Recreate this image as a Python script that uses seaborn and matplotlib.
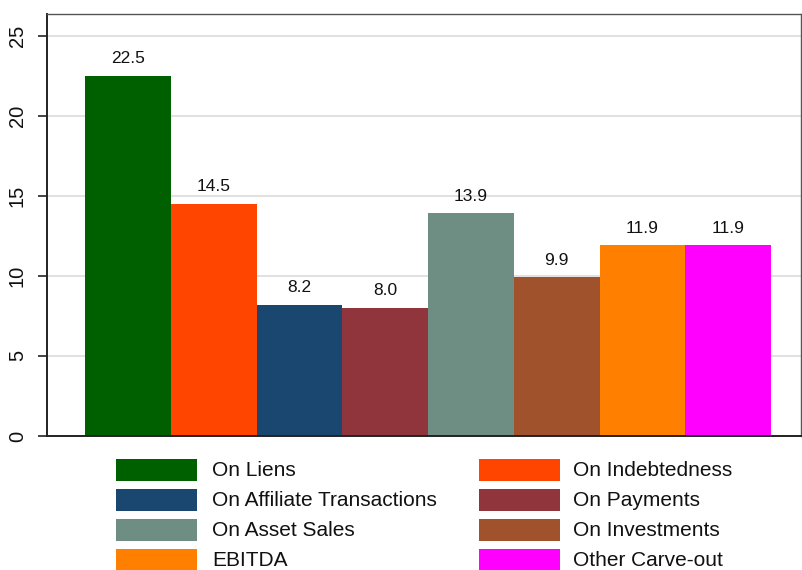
import matplotlib
matplotlib.use("Agg")
import matplotlib.pyplot as plt
from matplotlib.patches import Rectangle
import seaborn as sns
import pandas as pd

categories = ["On Liens", "On Indebtedness", "On Affiliate Transactions", "On Payments",
              "On Asset Sales", "On Investments", "EBITDA", "Other Carve-out"]
values = [22.5, 14.5, 8.2, 8.0, 13.9, 9.9, 11.9, 11.9]
colors = ["#006000", "#FF4500", "#1A476F", "#90353B",
          "#6E8E84", "#A0522D", "#FF7F00", "#FF00FF"]
yticks = [0, 5, 10, 15, 20, 25]

sns.set_theme(style="white")
plt.rcParams["font.family"] = ["Liberation Sans", "DejaVu Sans"]

df = pd.DataFrame({"category": categories, "value": values})

W, H = 802, 570
fig = plt.figure(figsize=(W / 100, H / 100), dpi=100)
ax = fig.add_axes([47 / W, 1 - 436 / H, 754 / W, 422 / H])

sns.barplot(data=df, x="category", y="value", hue="category", order=categories,
            hue_order=categories, palette=colors, width=1.0, dodge=False,
            legend=False, saturation=1.0, ax=ax)

for container in ax.containers:
    for bar in container:
        bar.set_edgecolor("none")
        bar.set_linewidth(0)
    ax.bar_label(container, fmt="%.1f", padding=7, fontsize=12.5, color="#111111")

# x scale: bars sit between 85px and 771px of the figure
unit = 686 / 8
ax.set_xlim(-0.5 - 38 / unit, 7.5 + 30 / unit)
ax.set_ylim(0, 422 / 16.02)

ax.set_yticks(yticks)
ax.set_yticklabels([str(t) for t in yticks], rotation=90, va="center", fontsize=14.5,
                   color="#111111")
ax.set_xticks([])
ax.set_xlabel("")
ax.set_ylabel("")
ax.yaxis.grid(True, color="#dcdcdc", linewidth=1.2)
ax.set_axisbelow(True)
ax.tick_params(axis="y", left=True, length=6.5, width=1.2, color="#222222", pad=8)

for side in ["left", "bottom", "top", "right"]:
    ax.spines[side].set_visible(True)
    ax.spines[side].set_color("#222222")
ax.spines["left"].set_linewidth(1.4)
ax.spines["bottom"].set_linewidth(1.4)
ax.spines["top"].set_linewidth(1.0)
ax.spines["top"].set_color("#555555")
ax.spines["right"].set_linewidth(1.0)
ax.spines["right"].set_color("#555555")

# Two-column key, filled row by row
swatch_x = [116, 479]
text_x = [212, 573]
row_top = 459
row_pitch = 30
sw_w, sw_h = 81, 22
for i, (label, color) in enumerate(zip(categories, colors)):
    row, col = divmod(i, 2)
    top = row_top + row * row_pitch
    fig.add_artist(Rectangle((swatch_x[col] / W, 1 - (top + sw_h) / H), sw_w / W, sw_h / H,
                             transform=fig.transFigure, facecolor=color, edgecolor="none"))
    fig.text(text_x[col] / W, 1 - (top + sw_h / 2) / H, label, fontsize=15,
             color="#111111", ha="left", va="center")

fig.savefig("out.png", dpi=100, facecolor="white")
